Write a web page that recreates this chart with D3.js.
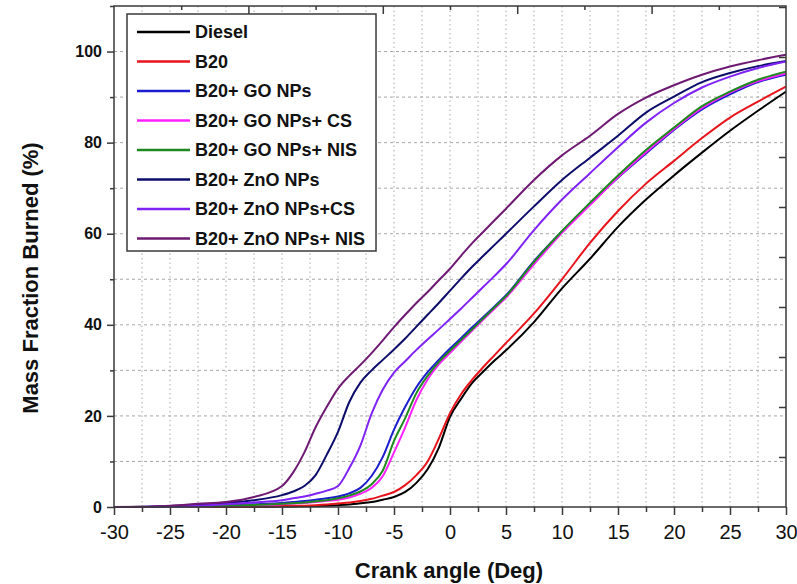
<!DOCTYPE html>
<html>
<head>
<meta charset="utf-8">
<script src="https://cdn.jsdelivr.net/npm/d3@7"></script>
<style>
  html, body { margin: 0; padding: 0; background: #fff; }
  svg { display: block; font-family: "Liberation Sans", Arial, sans-serif; }
</style>
</head>
<body>
<div id="chart"></div>
<script>
// ---- data ----
const angles = [-30, -27.5, -25, -22.5, -20, -17.5, -15, -14, -13, -12, -11, -10, -9, -8, -7, -6, -5, -4, -3, -2, -1, 0, 1, 2, 3, 4, 5, 7.5, 10, 12.5, 15, 17.5, 20, 22.5, 25, 27.5, 30];

const diesel    = [0, 0, 0, 0, 0.02, 0.05, 0.1, 0.13, 0.16, 0.2, 0.28, 0.4, 0.55, 0.8, 1.1, 1.6, 2.2, 3.3, 5.3, 8.3, 13, 19.8, 23.8, 27.3, 29.8, 32.2, 34.4, 40.6, 48, 54.5, 61.5, 67.5, 72.8, 77.8, 82.6, 87, 91.2];
const b20       = [0, 0, 0, 0.02, 0.05, 0.1, 0.2, 0.25, 0.3, 0.4, 0.55, 0.75, 1.0, 1.3, 1.8, 2.5, 3.3, 4.8, 7.0, 10, 15, 20.6, 24.8, 28, 30.8, 33.4, 36, 42.5, 50, 58, 65, 71, 76, 81, 85.5, 89, 92.3];
const goNPs     = [0, 0, 0.05, 0.15, 0.35, 0.6, 0.9, 1.1, 1.3, 1.6, 1.9, 2.3, 3.0, 4.2, 6.8, 11, 17, 22, 26.3, 29.6, 32.3, 34.8, 37.1, 39.5, 41.8, 44.1, 46.5, 54, 60.5, 66.5, 72.3, 77.6, 82.8, 87.3, 90.6, 93.3, 94.9];
const goNPsCS   = [0, 0, 0.03, 0.08, 0.2, 0.38, 0.6, 0.75, 0.9, 1.1, 1.35, 1.6, 2.1, 2.9, 4.2, 6.8, 12, 17.5, 23.5, 28, 31.3, 33.8, 36.3, 38.8, 41.2, 43.6, 46, 53.3, 60.2, 66.3, 72.4, 77.9, 83, 87.6, 91, 93.5, 95.2];
const goNPsNIS  = [0, 0, 0.03, 0.1, 0.25, 0.45, 0.7, 0.85, 1.0, 1.25, 1.5, 1.9, 2.5, 3.4, 5.0, 8.0, 14.5, 19.5, 25, 28.8, 31.8, 34.3, 36.7, 39.1, 41.5, 43.9, 46.3, 53.8, 60.6, 66.8, 72.8, 78.4, 83.3, 88, 91.2, 93.8, 95.6];
const znoNPs    = [0, 0.03, 0.2, 0.5, 0.9, 1.5, 2.6, 3.4, 4.6, 7, 11.5, 16.5, 23, 27.3, 30, 32.3, 34.6, 37, 39.6, 42.2, 44.8, 47.5, 50.2, 52.8, 55.2, 57.6, 60, 66, 71.8, 76.7, 81.5, 86.6, 90.1, 93.3, 95.3, 96.8, 97.9];
const znoNPsCS  = [0, 0.02, 0.1, 0.3, 0.6, 1.0, 1.5, 1.9, 2.3, 2.9, 3.6, 4.6, 8.5, 13.5, 20.5, 25.8, 29.5, 32, 34.5, 36.8, 39, 41.3, 43.6, 46, 48.4, 50.8, 53.3, 60.8, 67.5, 73.3, 79, 84.4, 88.7, 92.1, 94.5, 96.4, 97.8];
const znoNPsNIS = [0, 0.05, 0.3, 0.7, 1.1, 2.2, 4.6, 7.6, 12, 17.5, 22, 26, 28.8, 31.2, 33.8, 36.6, 39.5, 42.2, 44.8, 47.2, 49.8, 52.3, 55.2, 58, 60.5, 63, 65.5, 71.8, 77.2, 81.5, 86.3, 89.9, 92.6, 94.9, 96.7, 98.1, 99.3];

const seriesNames  = ["Diesel", "B20", "B20+ GO NPs", "B20+ GO NPs+ CS", "B20+ GO NPs+ NIS", "B20+ ZnO NPs", "B20+ ZnO NPs+CS", "B20+ ZnO NPs+ NIS"];
const seriesValues = [diesel, b20, goNPs, goNPsCS, goNPsNIS, znoNPs, znoNPsCS, znoNPsNIS];
const seriesColors = ["#000000", "#e8141c", "#1c1ccf", "#ff22ff", "#1e8a1e", "#0c0c6a", "#7f22f5", "#6e1a72"];

const xTicks = [-30, -25, -20, -15, -10, -5, 0, 5, 10, 15, 20, 25, 30];
const yTicks = [0, 20, 40, 60, 80, 100];

// ---- layout ----
const W = 797, H = 584;
const M = { left: 114, top: 6, right: 11, bottom: 77 };
const iw = W - M.left - M.right, ih = H - M.top - M.bottom;

const svg = d3.select("#chart").append("svg").attr("width", W).attr("height", H);
const g = svg.append("g").attr("transform", `translate(${M.left},${M.top})`);

const x = d3.scaleLinear().domain([-30, 30]).range([0, iw]);
const y = d3.scaleLinear().domain([0, 110]).range([ih, 0]);
const xTop = d3.scaleLinear().domain([-30, 30]).range([0, iw]);
const yRight = d3.scaleLinear().domain([0, 10]).range([ih, ih - 500]);
const fmt = d => String(d);

// grid
const gridX = d3.range(-27.5, 30, 2.5);
g.append("g").selectAll("line").data(gridX).join("line")
  .attr("x1", d => x(d)).attr("x2", d => x(d)).attr("y1", 0).attr("y2", ih)
  .attr("stroke", "#aaaaaa").attr("stroke-width", 1).attr("stroke-dasharray", "1.5,3");
const gridY = d3.range(10, 110, 10);
g.append("g").selectAll("line").data(gridY).join("line")
  .attr("x1", 0).attr("x2", iw).attr("y1", d => y(d)).attr("y2", d => y(d))
  .attr("stroke", "#a8a8a8").attr("stroke-width", 1).attr("stroke-dasharray", "3,3");

// lines
const line = d3.line().x(d => x(d[0])).y(d => y(d[1])).curve(d3.curveMonotoneX);
seriesValues.forEach((vals, i) => {
  g.append("path")
    .datum(angles.map((a, j) => [a, vals[j]]))
    .attr("fill", "none").attr("stroke", seriesColors[i]).attr("stroke-width", 2)
    .attr("d", line);
});

// frame
g.append("rect").attr("x", 0).attr("y", 0).attr("width", iw).attr("height", ih)
  .attr("fill", "none").attr("stroke", "#3a3a3a").attr("stroke-width", 1.5);

// bottom axis
const axB = g.append("g").attr("transform", `translate(0,${ih})`);
axB.call(d3.axisBottom(x).tickValues(d3.range(-27.5, 30, 5)).tickSize(5).tickFormat(""))
  .call(a => a.select(".domain").remove());
axB.append("g").call(d3.axisBottom(x).tickValues(xTicks).tickSize(8).tickPadding(10).tickFormat(fmt))
  .call(a => a.select(".domain").remove())
  .call(a => a.selectAll("text").attr("font-size", 20).attr("fill", "#111").attr("font-family", "Liberation Sans, Arial, sans-serif"));
axB.selectAll("line").attr("stroke", "#3a3a3a").attr("stroke-width", 1.5);

// left axis
const axL = g.append("g");
axL.call(d3.axisLeft(y).tickValues(d3.range(10, 111, 20)).tickSize(4).tickFormat(""))
  .call(a => a.select(".domain").remove());
axL.append("g").call(d3.axisLeft(y).tickValues(yTicks).tickSize(7).tickPadding(5).tickFormat(fmt))
  .call(a => a.select(".domain").remove())
  .call(a => a.selectAll("text").attr("font-size", 16).attr("font-weight", "bold").attr("fill", "#111").attr("font-family", "Liberation Sans, Arial, sans-serif"));
axL.selectAll("line").attr("stroke", "#3a3a3a").attr("stroke-width", 1.5);

// top axis (inward ticks)
const axT = g.append("g");
axT.call(d3.axisTop(xTop).tickValues([-24, -12, 0, 12, 24]).tickSize(-4).tickFormat(""))
  .call(a => a.select(".domain").remove());
axT.append("g").call(d3.axisTop(xTop).tickValues([-18, -6, 6, 18]).tickSize(-8).tickFormat(""))
  .call(a => a.select(".domain").remove());
axT.selectAll("line").attr("stroke", "#3a3a3a").attr("stroke-width", 1.5);

// right axis (inward ticks)
const axR = g.append("g").attr("transform", `translate(${iw},0)`);
axR.call(d3.axisRight(yRight).tickValues(d3.range(1, 11, 1)).tickSize(-7).tickFormat(""))
  .call(a => a.select(".domain").remove());
axR.selectAll("line").attr("stroke", "#3a3a3a").attr("stroke-width", 1.5);

// axis titles
svg.append("text").attr("x", M.left + iw / 2 - 1).attr("y", 578)
  .attr("text-anchor", "middle").attr("font-size", 22).attr("font-weight", "bold").attr("fill", "#111")
  .text("Crank angle (Deg)");
svg.append("text").attr("transform", `translate(38,278) rotate(-90)`)
  .attr("text-anchor", "middle").attr("font-size", 22).attr("font-weight", "bold").attr("fill", "#111")
  .text("Mass Fraction Burned (%)");

// legend
const lg = svg.append("g");
lg.append("rect").attr("x", 127).attr("y", 14).attr("width", 249).attr("height", 237)
  .attr("fill", "#fff").attr("stroke", "#3a3a3a").attr("stroke-width", 1.5);
seriesNames.forEach((name, i) => {
  const yy = 32 + i * 29.5;
  lg.append("line").attr("x1", 137).attr("x2", 190).attr("y1", yy).attr("y2", yy)
    .attr("stroke", seriesColors[i]).attr("stroke-width", 2.5);
  lg.append("text").attr("x", 195).attr("y", yy).attr("dy", "0.36em")
    .attr("font-size", 18).attr("font-weight", "bold").attr("fill", "#111").text(name);
});
</script>
</body>
</html>
